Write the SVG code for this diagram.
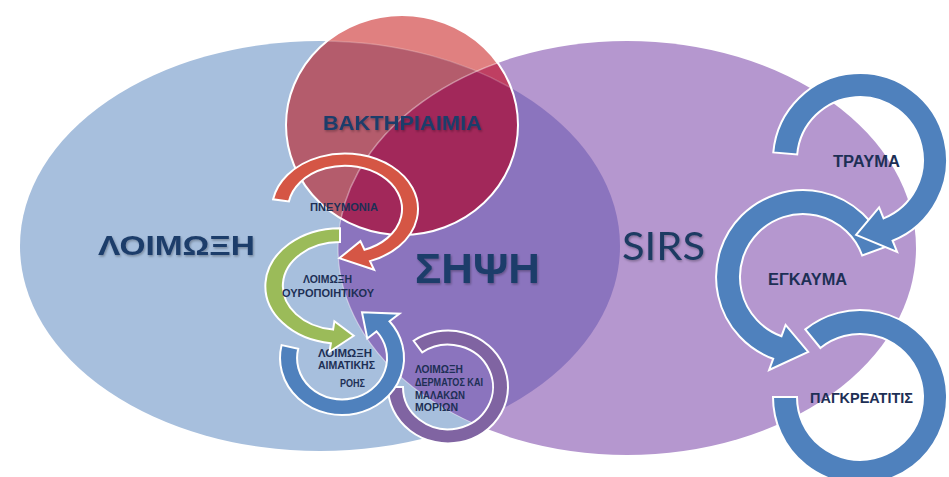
<svg xmlns="http://www.w3.org/2000/svg" width="949" height="477" viewBox="0 0 949 477">
<style>
.lbl{font-family:"Liberation Sans",Arial,sans-serif;font-weight:bold;fill:#1d2f55}
.big{font-family:"Liberation Sans",Arial,sans-serif;font-weight:bold;fill:#1f3d6b}
.arc{stroke:#ffffff;stroke-width:2;vector-effect:non-scaling-stroke;stroke-linejoin:miter}
.bl{fill:#4f81bd}
</style>
<defs>
<clipPath id="clipBlue"><ellipse cx="320" cy="246" rx="300" ry="205"/></clipPath>
<clipPath id="clipPurple"><ellipse cx="627" cy="248" rx="289" ry="207"/></clipPath>
<clipPath id="clipRed"><ellipse cx="402" cy="125" rx="116" ry="110"/></clipPath>
<filter id="sh" x="-10%" y="-20%" width="120%" height="140%"><feDropShadow dx="1" dy="1.5" stdDeviation="1" flood-color="#000" flood-opacity="0.3"/></filter>
</defs>
<rect width="949" height="477" fill="#ffffff"/>

<g id="node-loimoxi">
<ellipse cx="320" cy="246" rx="300" ry="205" fill="#a7bfdd"/>
<text class="big" x="98" y="255" font-size="28" textLength="157" lengthAdjust="spacingAndGlyphs" filter="url(#sh)">ΛΟΙΜΩΞΗ</text>
</g>

<g id="node-sirs">
<ellipse cx="627" cy="248" rx="289" ry="207" fill="#b597cf"/>
<text x="622" y="260" font-family="Lato,'Liberation Sans',sans-serif" font-size="39" fill="#1f3a62" textLength="83" lengthAdjust="spacingAndGlyphs" filter="url(#sh)">SIRS</text>
</g>

<g id="node-sipsi">
<ellipse cx="627" cy="248" rx="289" ry="207" fill="#8b74be" clip-path="url(#clipBlue)"/>
<ellipse cx="627" cy="248" rx="289" ry="207" fill="none" stroke="#ffffff" stroke-opacity="0.45" stroke-width="1.2" clip-path="url(#clipBlue)"/>
<text class="big" x="415" y="283" font-size="43" textLength="125" lengthAdjust="spacingAndGlyphs" filter="url(#sh)">ΣΗΨΗ</text>
</g>

<g id="node-bakthriaimia">
<ellipse cx="402" cy="125" rx="116" ry="110" fill="#e08080"/>
<g clip-path="url(#clipRed)">
<ellipse cx="320" cy="246" rx="300" ry="205" fill="#b45c6c"/>
<ellipse cx="627" cy="248" rx="289" ry="207" fill="#bf3f62"/>
<ellipse cx="627" cy="248" rx="289" ry="207" fill="#a2285a" clip-path="url(#clipBlue)"/>
<ellipse cx="627" cy="248" rx="289" ry="207" fill="none" stroke="#ffffff" stroke-opacity="0.4" stroke-width="1.5"/>
<ellipse cx="320" cy="246" rx="300" ry="205" fill="none" stroke="#ffffff" stroke-opacity="0.2" stroke-width="1.5"/>
</g>
<ellipse cx="402" cy="125" rx="116" ry="110" fill="none" stroke="#ffffff" stroke-width="2"/>
<text class="big" x="323" y="130" font-size="21" textLength="159" lengthAdjust="spacingAndGlyphs" filter="url(#sh)">ΒΑΚΤΗΡΙΑΙΜΙΑ</text>
</g>

<g id="node-dermatos">
<path class="arc" fill="#8064a2" transform="translate(448,387) scale(1,0.94)" d="M-34.4,-49.2 A60,60 0 1 1 -60,0 L-45,0 A45,45 0 1 0 -25.8,-36.9 Z"/>
<text class="lbl" font-size="10">
<tspan x="415" y="373" textLength="48" lengthAdjust="spacingAndGlyphs">ΛΟΙΜΩΞΗ</tspan>
<tspan x="415" y="386" textLength="68" lengthAdjust="spacingAndGlyphs">ΔΕΡΜΑΤΟΣ ΚΑΙ</tspan>
<tspan x="415" y="399" textLength="50" lengthAdjust="spacingAndGlyphs">ΜΑΛΑΚΩΝ</tspan>
<tspan x="415" y="411" textLength="43" lengthAdjust="spacingAndGlyphs">ΜΟΡΙΩΝ</tspan>
</text>
</g>

<g id="node-aimatikis">
<path class="arc bl" transform="translate(342,358) scale(1,0.92)" d="M-60.4,-14 A62,62 0 1 0 47.5,-39.9 L57.5,-48.2 L20,-49.6 L25.3,-21.2 L34.5,-28.9 A45,45 0 1 1 -43.8,-10.1 Z"/>
<text class="lbl" font-size="10.5">
<tspan x="318" y="357" textLength="54" lengthAdjust="spacingAndGlyphs">ΛΟΙΜΩΞΗ</tspan>
<tspan x="318" y="369" textLength="57" lengthAdjust="spacingAndGlyphs">ΑΙΜΑΤΙΚΗΣ</tspan>
<tspan x="340" y="387" textLength="25" lengthAdjust="spacingAndGlyphs">ΡΟΗΣ</tspan>
</text>
</g>

<g id="node-ouropoiitikou">
<path class="arc" fill="#9bbb59" transform="translate(340,286) scale(1,0.77)" d="M0,-75 A75,75 0 0 0 -9.1,74.4 L-10.5,85.4 L13.7,64.6 L-5.6,45.7 L-6.9,56.6 A57,57 0 0 1 0,-57 Z"/>
<text class="lbl" font-size="11">
<tspan x="303" y="283" textLength="49" lengthAdjust="spacingAndGlyphs">ΛΟΙΜΩΞΗ</tspan>
<tspan x="282" y="297" textLength="92" lengthAdjust="spacingAndGlyphs">ΟΥΡΟΠΟΙΗΤΙΚΟΥ</tspan>
</text>
</g>

<g id="node-pneumonia">
<path class="arc" fill="#d55645" transform="translate(345,209) scale(1,0.76)" d="M-71.9,-12.7 A73,73 0 1 1 25,68.6 L29.1,79.9 L-5.7,64.8 L15.4,42.3 L19.5,53.6 A57,57 0 1 0 -56.1,-9.9 Z"/>
<text class="lbl" x="310" y="210.5" font-size="10.5" textLength="68" lengthAdjust="spacingAndGlyphs">ΠΝΕΥΜΟΝΙΑ</text>
</g>

<g id="node-pagkreatitis">
<path class="arc bl" d="M805.3,329.4 A87,87 0 1 1 773,397 L797,397 A63,63 0 1 0 820.4,348 Z"/>
<text class="lbl" x="810" y="403" font-size="15.5" textLength="103" lengthAdjust="spacingAndGlyphs">ΠΑΓΚΡΕΑΤΙΤΙΣ</text>
</g>

<g id="node-egkauma">
<path class="arc bl" d="M884.8,247.2 A87,87 0 1 0 773.2,358.8 L769.1,370 L808.2,351.8 L785.6,324.9 L781.5,336.2 A63,63 0 1 1 862.2,255.5 Z"/>
<text class="lbl" x="768" y="285" font-size="16" textLength="79" lengthAdjust="spacingAndGlyphs">ΕΓΚΑΥΜΑ</text>
</g>

<g id="node-trauma">
<path class="arc bl" d="M773.3,152.4 A87,87 0 1 1 892.6,240.7 L897.1,251.8 L856.1,234.9 L879.1,207.3 L883.6,218.4 A63,63 0 1 0 797.2,154.5 Z"/>
<text class="lbl" x="833" y="167" font-size="16" textLength="67" lengthAdjust="spacingAndGlyphs">ΤΡΑΥΜΑ</text>
</g>

<g id="connectors"></g>
</svg>
